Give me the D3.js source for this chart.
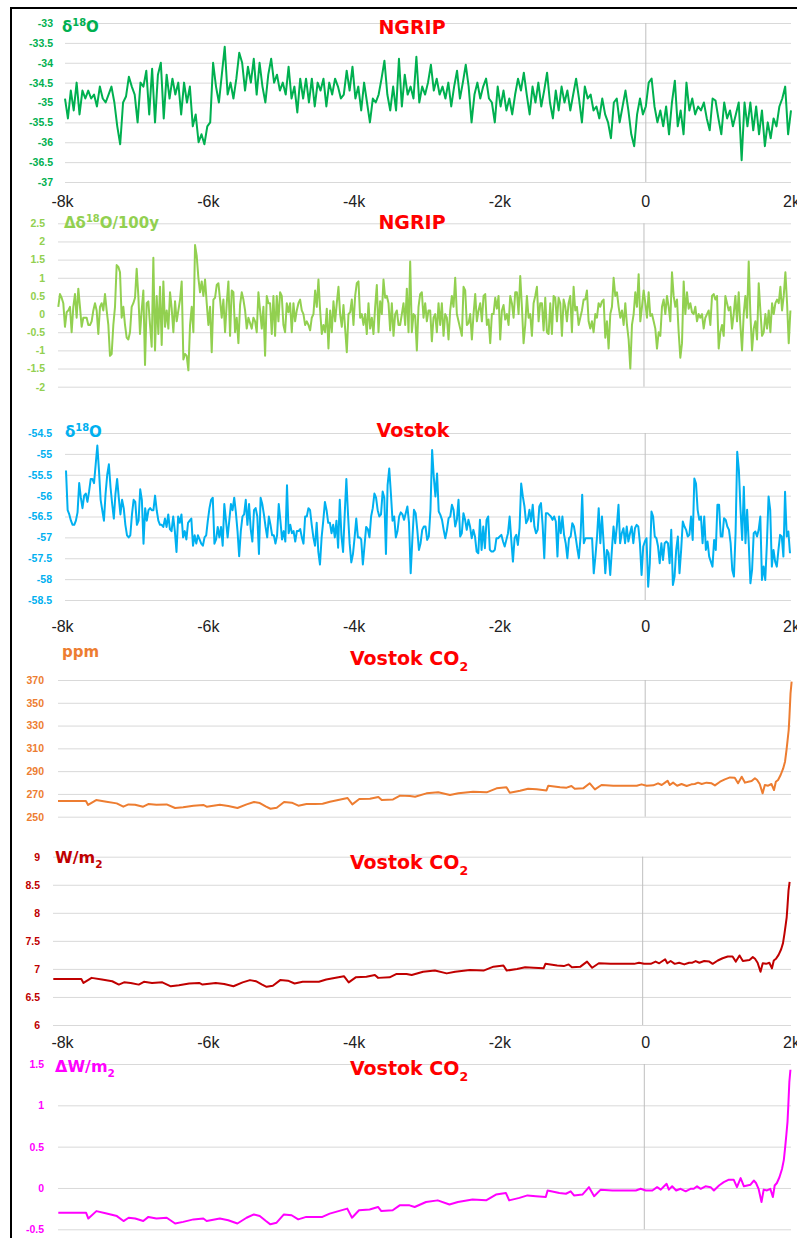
<!DOCTYPE html>
<html>
<head lang="en">
    <meta charset="UTF-8">
    <title></title>
    <script src="https://cdn.jsdelivr.net/npm/d3@7/dist/d3.min.js"></script>
    <style>
        body{margin:0;background:#fff;}
        svg{display:block;font-family:"DejaVu Sans",Verdana,sans-serif;}
        .grid line{stroke:#d9d9d9;stroke-width:1px;}
        .grid text{font-size:10.5px;font-weight:bold;}
        .zero{stroke:#bfbfbf;stroke-width:1px;}
        .series{fill:none;stroke-width:2px;stroke-linejoin:round;}
        .title{fill:#ff0000;font-weight:bold;}
        .unit{font-weight:bold;}
        .xlab text{font-size:16px;fill:#222;}
    </style>
</head>
<body>
<div id="chart"></div>
<script>
    // x axis labels, shared by the three labelled panels
    var xTickYears = [-8000, -6000, -4000, -2000, 0, 2000];
    var xTickLabels = ['-8k', '-6k', '-4k', '-2k', '0', '2k'];

    // y tick values per panel
    var ngripTicks = [-33, -33.5, -34, -34.5, -35, -35.5, -36, -36.5, -37];
    var ngripDeltaTicks = [2.5, 2, 1.5, 1, 0.5, 0, -0.5, -1, -1.5, -2];
    var vostokTicks = [-54.5, -55, -55.5, -56, -56.5, -57, -57.5, -58, -58.5];
    var ppmTicks = [370, 350, 330, 310, 290, 270, 250];
    var wm2Ticks = [9, 8.5, 8, 7.5, 7, 6.5, 6];
    var dwm2Ticks = [1.5, 1, 0.5, 0, -0.5];

    // NGRIP d18O, evenly spaced from -8000 to 2000
    var ngripD18O = [
        -34.9,-35.4,-34.7,-35.2,-34.5,-35.3,-34.7,-34.9,-34.7,-34.9,
        -34.8,-35.1,-34.6,-34.9,-35.0,-34.8,-34.6,-35.0,-35.6,-36.05,
        -35.0,-34.85,-34.35,-34.6,-34.8,-35.5,-34.5,-34.6,-34.2,-35.3,
        -34.15,-35.5,-34.3,-34.0,-35.4,-34.3,-34.9,-34.4,-34.8,-34.5,
        -35.3,-34.5,-35.0,-34.6,-35.6,-35.3,-36.0,-35.8,-36.05,-35.6,
        -35.5,-34.0,-34.6,-35.0,-34.3,-33.6,-34.8,-34.5,-34.9,-34.4,
        -33.75,-34.0,-34.7,-34.1,-34.5,-33.9,-34.8,-34.0,-34.6,-35.0,
        -34.3,-33.9,-34.5,-34.3,-34.7,-34.5,-34.8,-34.1,-34.9,-34.6,
        -35.25,-34.4,-34.9,-34.4,-35.0,-34.4,-35.1,-34.5,-34.7,-34.4,
        -35.1,-34.5,-34.8,-34.4,-34.6,-34.9,-34.8,-34.2,-34.7,-34.1,
        -34.9,-34.6,-35.2,-34.5,-35.0,-35.5,-34.9,-35.0,-34.8,-34.4,
        -33.95,-34.8,-35.2,-34.6,-35.2,-33.9,-35.1,-34.3,-34.8,-34.6,
        -34.9,-33.85,-35.0,-34.6,-34.8,-34.5,-34.05,-34.7,-34.4,-34.8,
        -34.6,-34.9,-34.5,-35.1,-34.6,-34.2,-34.9,-34.5,-34.05,-34.6,
        -35.5,-34.8,-34.5,-34.9,-34.6,-34.4,-34.9,-35.0,-35.5,-34.6,
        -35.1,-34.7,-35.2,-34.9,-35.3,-34.8,-34.4,-34.7,-34.25,-34.8,
        -35.3,-34.6,-35.0,-34.5,-35.1,-34.7,-34.25,-35.0,-35.4,-34.7,
        -35.2,-34.6,-35.0,-34.7,-35.2,-34.8,-34.4,-34.9,-35.5,-34.6,
        -34.9,-34.8,-35.2,-35.1,-35.4,-34.9,-35.3,-35.5,-35.9,-35.0,
        -34.9,-35.5,-35.1,-34.7,-35.2,-35.8,-36.1,-35.3,-34.9,-35.3,
        -35.1,-34.5,-34.4,-35.1,-35.5,-35.2,-35.6,-35.1,-35.8,-35.0,
        -34.45,-35.6,-35.2,-35.8,-34.5,-35.2,-34.9,-35.3,-35.1,-35.2,
        -35.0,-35.4,-35.7,-34.9,-34.95,-35.4,-35.8,-35.0,-35.4,-35.2,
        -35.6,-35.3,-35.0,-36.45,-35.0,-35.6,-35.0,-35.7,-35.1,-35.8,
        -35.2,-36.1,-35.5,-35.9,-35.4,-35.6,-35.1,-34.9,-34.6,-35.8,-35.2
    ];

    // NGRIP change of d18O per 100 years, evenly spaced from -8000 to 2000
    var ngripDelta = [
        0.2,0.55,0.45,0.3,-0.35,0.05,0.1,0.2,-0.5,0.2,
        0.55,-0.1,0.7,0.2,-0.35,-0.1,-0.1,-0.1,-0.3,-0.3,
        -0.2,0.1,0.3,0.1,-0.55,0.2,0.3,0.1,0.55,0.1,
        -0.3,-1.15,-1.1,-0.3,0.2,1.35,1.3,1.15,-0.1,0.2,
        -0.3,-0.65,-0.7,-0.5,0.2,0.3,0.45,1.25,0.5,-0.55,
        0.1,0.65,-1.4,0.3,0.35,-0.3,-0.9,1.55,-1.0,0.5,
        -0.55,0.75,-0.85,0.9,-0.35,0.1,-0.4,0.6,0.15,-0.5,
        0.35,-0.2,0.1,0.4,0.9,-1.25,-1.1,-1.15,-1.55,-0.3,
        0.2,-0.5,1.9,1.6,1.0,0.6,0.9,0.5,0.95,0.3,
        -0.3,0.2,-1.05,0.4,0.45,0.8,0.85,0.4,-0.1,0.4,
        -0.5,0.3,0.9,-0.6,0.65,0.6,-0.5,-0.1,-0.8,0.25,
        0.6,0.4,0.1,-0.4,-0.1,-0.25,-0.4,-0.1,-0.2,-0.5,
        0.6,0.1,-0.4,0.2,-1.15,0.5,0.3,0.3,-0.55,0.5,
        -0.6,0.5,-0.2,0.6,0.5,-0.3,-0.5,0.3,0.05,0.3,
        -0.5,0.3,-0.2,0.1,0.3,0.4,0.1,0.0,-0.3,-0.2,
        -0.3,-0.45,-0.1,0.0,0.65,0.2,0.95,0.1,-0.55,-0.3,
        -0.5,0.15,-0.95,0.1,-0.5,0.35,-0.2,0.3,0.75,0.0,
        -0.35,0.25,-0.4,-1.05,0.0,0.05,0.4,-0.3,0.5,0.85,
        0.9,-0.1,0.0,-0.3,0.0,-0.55,0.3,-0.4,-0.1,-0.55,
        0.2,0.8,-0.5,0.35,0.0,0.95,0.45,0.5,0.3,-0.45,
        0.3,-0.6,0.0,0.1,-0.3,
        -0.3,0.0,0.3,-0.3,0.7,-0.5,1.45,-0.5,0.0,-0.05,
        -1.0,0.2,0.55,0.6,-0.1,0.3,-0.2,0.1,0.1,-0.75,
        -0.1,0.0,-0.5,0.3,-0.3,0.3,-0.6,0.0,-0.1,-0.7,
        0.1,0.5,0.2,1.0,0.0,-0.2,-0.4,-0.6,0.75,0.65,
        -0.3,-0.25,0.0,-0.7,0.0,0.55,-0.2,0.1,0.3,-0.2,
        0.5,0.55,-0.3,-0.15,-0.8,0.0,0.0,0.45,0.15,0.5,
        -0.7,0.1,0.25,-0.15,0.0,-0.3,0.5,0.3,-0.1,0.6,
        0.6,0.0,1.05,0.2,-0.8,-0.3,0.5,-0.1,0.0,-0.6,
        0.3,0.5,0.75,-0.2,0.3,0.3,-0.45,0.45,-0.5,-0.55,
        0.3,-0.55,0.5,0.45,-0.2,0.45,0.3,-0.6,0.4,0.2,
        -0.2,0.3,0.5,-0.5,0.75,0.1,0.2,-0.3,-0.1,0.1,
        0.4,0.4,0.65,-0.2,-0.4,-0.2,-0.5,0.0,-0.1,0.3,
        0.2,0.35,0.4,-0.65,-0.2,-0.95,0.0,0.2,1.0,0.5,
        0.6,0.2,-0.1,0.1,-0.3,0.3,-0.3,-0.7,-1.5,-0.3,
        0.0,0.6,0.2,1.1,-0.2,0.2,0.65,0.3,-0.1,0.6,
        -0.05,0.0,-0.2,-0.4,-0.95,-0.5,-0.6,0.2,0.4,0.0,
        0.5,0.2,-0.2,1.15,0.5,0.2,0.4,-0.5,-1.2,-0.8,
        0.9,0.0,0.6,0.15,0.3,0.05,0.0,0.2,-0.2,0.0,
        -0.1,0.0,-0.4,-0.1,0.0,0.1,-0.3,0.5,0.55,0.4,
        0.5,-0.95,-0.5,-0.3,-0.6,0.5,0.3,0.1,0.2,-0.4,
        0.0,0.5,-0.2,0.6,-0.3,-1.0,0.0,0.5,-0.1,1.45,
        0.0,-1.0,-0.4,-0.2,-0.7,0.85,0.1,-0.6,-0.5,0.0,
        -0.4,0.1,-0.5,0.3,0.0,0.3,0.4,0.3,0.75,0.1,
        0.5,1.15,0.3,-0.8,0.1
    ];

    // Vostok d18O, evenly spaced from -8000 to 2000
    var vostokD18O = [
        -55.4,-56.35,-56.45,-56.6,-56.7,-56.7,-56.6,-56.4,-55.7,-56.05,
        -56.3,-56.0,-55.95,-56.15,-55.9,-55.6,-55.6,-55.7,-55.25,-54.8,
        -55.4,-56.1,-56.35,-56.6,-55.95,-55.5,-55.25,-55.8,-56.2,-56.55,
        -55.95,-55.6,-56.05,-56.45,-56.1,-56.3,-56.7,-56.95,-57.0,-56.95,
        -56.45,-56.1,-56.15,-56.7,-56.6,-55.85,-56.1,-57.15,-56.3,-56.6,
        -56.35,-56.3,-56.35,-56.35,-56.0,-56.35,-56.6,-56.7,-56.7,-56.75,
        -56.55,-56.75,-56.45,-56.8,-56.85,-56.5,-56.85,-57.35,-56.5,-56.65,
        -56.45,-57.0,-56.85,-57.05,-56.65,-56.6,-56.55,-57.2,-56.95,-57.15,
        -56.95,-57.05,-57.15,-57.2,-57.0,-56.95,-56.6,-56.3,-56.1,-56.05,
        -57.15,-57.05,-56.75,-57.0,-56.75,-57.2,-56.2,-56.6,-57.0,-56.6,
        -56.2,-56.35,-56.05,-56.4,-56.85,-57.45,-56.85,-56.5,-56.45,-56.1,
        -56.7,-56.2,-56.8,-57.1,-56.35,-56.3,-56.5,-57.4,-56.05,-56.2,
        -56.45,-56.75,-57.0,-56.5,-56.7,-56.95,-56.95,-57.15,-56.95,-56.2,
        -56.6,-57.05,-56.85,-57.1,-55.75,-56.9,-56.7,-56.9,-56.85,-57.1,
        -56.85,-56.85,-56.8,-57.0,-57.15,-56.5,-56.5,-56.3,-56.35,-56.7,
        -57.0,-57.2,-56.65,-57.35,-57.65,-57.0,-56.6,-56.15,-56.35,-56.65,
        -56.65,-56.9,-56.7,-57.0,-56.6,-57.25,-56.1,-56.95,-57.35,-56.45,
        -55.6,-56.45,-57.15,-57.6,-57.4,-57.0,-56.55,-57.0,-57.0,-57.05,
        -57.65,-57.2,-56.75,-56.8,-57.0,-56.5,-56.3,-55.95,-56.05,-56.35,
        -56.5,-56.45,-55.9,-56.05,-57.4,-55.75,-55.35,-55.95,-56.6,-56.5,
        -57.0,-56.85,-56.5,-56.4,-56.45,
        -56.58,-56.42,-56.26,-56.66,-57.86,-57.06,-56.34,-56.42,-56.82,-57.3,
        -57.14,-56.82,-56.74,-56.74,-57.06,-56.98,-56.34,-54.91,-55.55,-56.02,
        -55.47,-56.38,-56.46,-56.58,-56.82,-57.02,-56.82,-56.54,-56.5,-56.22,
        -56.34,-56.74,-56.58,-56.1,-56.98,-56.9,-56.42,-56.58,-56.82,-56.58,
        -56.74,-57.02,-56.82,-56.98,-57.34,-57.38,-56.58,-57.3,-56.74,-57.26,
        -56.58,-56.5,-57.3,-57.34,-57.34,-57.3,-57.02,-57.02,-56.98,-56.94,
        -57.1,-57.22,-57.06,-56.9,-56.5,-57.06,-57.58,-57.02,-56.94,-57.18,
        -56.78,-55.71,-56.02,-56.26,-56.66,-56.58,-56.34,-56.62,-56.22,-56.74,
        -56.9,-56.82,-56.26,-56.18,-56.7,-57.5,-56.42,-56.42,-56.46,-56.5,
        -56.58,-56.5,-56.62,-57.46,-56.5,-56.9,-56.5,-56.94,-57.14,-57.5,
        -57.02,-56.98,-56.66,-56.74,-56.98,-57.26,-57.5,-56.98,-55.98,-57.14,
        -57.02,-57.02,-57.02,-57.02,-57.02,-57.86,-57.46,-56.98,-56.3,-57.14,
        -56.5,-57.14,-57.86,-57.3,-57.38,-57.9,-57.3,-56.74,-57.14,-56.74,
        -56.22,-57.14,-56.9,-56.78,-57.14,-56.74,-57.1,-56.9,-56.74,-57.14,
        -56.78,-56.7,-56.74,-57.14,-57.9,-57.22,-57.1,-57.02,-58.18,-57.62,
        -56.38,-56.5,-56.98,-57.02,-57.22,-57.62,-57.14,-57.54,-57.14,-57.1,
        -57.14,-57.62,-56.82,-58.14,-57.94,-57.3,-56.98,-57.86,-57.3,-56.62,
        -56.74,-56.82,-56.98,-56.94,-56.5,-57.06,-55.59,-55.71,-56.34,-56.58,
        -56.5,-57.14,-56.5,-57.3,-57.1,-57.46,-57.58,-57.7,-57.06,-57.3,
        -56.22,-56.22,-56.98,-56.98,-56.54,-56.58,-56.74,-56.82,-57.14,-57.78,
        -57.94,-56.9,-54.95,-55.39,-56.34,-57.06,-55.79,-57.14,-56.34,-57.14,
        -58.1,-57.78,-56.9,-56.86,-56.98,-56.82,-56.5,-58.02,-57.7,-58.02,
        -57.14,-56.02,-56.34,-57.7,-57.3,-57.58,-57.7,-57.3,-56.94,-56.98,
        -57.46,-55.91,-56.98,-56.86,-57.38
    ];

    // Vostok CO2 record (years, ppm) and its forcing
    var co2Years = [
        -8000,-7620,-7590,-7480,-7340,-7200,-7110,-7040,-6950,-6840,
        -6770,-6660,-6520,-6405,-6295,-6155,-6020,-5975,-5795,-5680,
        -5555,-5430,-5330,-5250,-5165,-5105,-5020,-4920,-4815,-4725,
        -4615,-4500,-4395,-4295,-4055,-3990,-3895,-3750,-3635,-3590,
        -3435,-3340,-3205,-3135,-2980,-2820,-2660,-2545,-2345,-2160,
        -2025,-1890,-1845,-1705,-1595,-1480,-1345,-1320,-1160,-1070,
        -1005,-960,-845,-755,-685,-595,-435,-255,-115,-50,
        20,110,175,225,270,305,335,380,435,495,
        565,630,675,720,770,835,905,950,1020,1085,
        1155,1220,1265,1315,1360,1405,1450,1495,1525,1560,
        1600,1630,1675,1720,1755,1780,1810,1845,1880,1905,
        1925,1940,1955,1965,1980,1995
    ];
    var co2Ppm = [
        263.8,263.8,260.3,264.6,263.2,261.7,258.8,260.8,260.5,258.8,
        261.1,260.5,260.8,257.6,258.2,259.7,260.3,258.8,260.5,259.4,
        257.6,260.8,262.9,262.0,258.8,257.0,257.9,262.9,262.3,259.7,
        261.1,261.1,261.4,263.2,266.4,260.8,265.5,265.8,267.3,264.6,
        265.2,268.5,268.1,267.5,270.5,271.4,269.0,270.5,272.0,271.4,
        274.9,275.8,271.1,272.8,274.6,274.0,273.1,277.2,275.8,275.5,
        277.0,274.6,274.9,279.3,274.0,277.8,277.2,277.2,277.2,278.4,
        277.2,277.5,279.3,277.8,279.9,281.6,277.8,279.9,277.2,278.7,
        277.0,278.4,278.7,279.9,278.7,279.9,279.3,277.5,280.7,282.8,
        284.5,284.2,279.3,285.1,279.9,280.7,281.3,283.7,282.2,278.7,
        270.5,277.8,277.2,278.7,273.4,280.7,282.2,286.6,292.4,298.3,
        308.5,317.3,326.1,337.8,358.3,368.5
    ];
    var co2Wm2 = [
        6.82,6.82,6.75,6.84,6.81,6.78,6.72,6.76,6.75,6.72,
        6.77,6.75,6.76,6.69,6.71,6.74,6.75,6.72,6.75,6.73,
        6.69,6.76,6.80,6.78,6.72,6.68,6.70,6.80,6.79,6.74,
        6.77,6.77,6.77,6.81,6.87,6.76,6.85,6.86,6.89,6.84,
        6.85,6.91,6.91,6.89,6.95,6.97,6.92,6.95,6.98,6.97,
        7.04,7.06,6.97,7.00,7.03,7.02,7.01,7.09,7.06,7.05,
        7.08,7.03,7.04,7.13,7.02,7.10,7.09,7.09,7.09,7.11,
        7.09,7.09,7.13,7.10,7.14,7.17,7.10,7.14,7.09,7.11,
        7.08,7.11,7.11,7.14,7.11,7.14,7.13,7.09,7.15,7.19,
        7.22,7.22,7.13,7.24,7.14,7.15,7.16,7.21,7.18,7.11,
        6.95,7.10,7.09,7.11,7.01,7.15,7.18,7.25,7.35,7.46,
        7.63,7.77,7.92,8.10,8.40,8.55
    ];
    var co2DeltaWm2 = [
        -0.30,-0.30,-0.37,-0.28,-0.31,-0.34,-0.40,-0.36,-0.37,-0.40,
        -0.35,-0.37,-0.36,-0.43,-0.41,-0.38,-0.37,-0.40,-0.37,-0.39,
        -0.43,-0.36,-0.32,-0.34,-0.40,-0.44,-0.42,-0.32,-0.33,-0.38,
        -0.35,-0.35,-0.35,-0.31,-0.25,-0.36,-0.27,-0.26,-0.23,-0.28,
        -0.27,-0.21,-0.21,-0.23,-0.17,-0.15,-0.20,-0.17,-0.14,-0.15,
        -0.08,-0.06,-0.15,-0.12,-0.09,-0.10,-0.11,-0.03,-0.06,-0.07,
        -0.04,-0.09,-0.08,0.01,-0.10,-0.02,-0.03,-0.03,-0.03,-0.01,
        -0.03,-0.03,0.01,-0.02,0.02,0.05,-0.02,0.02,-0.03,-0.01,
        -0.04,-0.01,-0.01,0.02,-0.01,0.02,0.01,-0.03,0.03,0.07,
        0.10,0.10,0.01,0.12,0.02,0.03,0.04,0.09,0.06,-0.01,
        -0.17,-0.02,-0.03,-0.01,-0.11,0.03,0.06,0.13,0.23,0.34,
        0.51,0.65,0.80,0.98,1.28,1.43
    ];

    function evenYears(vals){
        var idx = d3.scaleLinear().domain([0, vals.length - 1]).range([-8000, 2000]);
        return vals.map(function(d, i){ return idx(i); });
    }

    var panels = [
        {years: evenYears(ngripD18O), values: ngripD18O, ticks: ngripTicks, color: '#00b050',
         left: 65, right: 791, top: 23, bottom: 182, gridLeft: 65, pad: 12,
         unit: [['δ',''],['18','sup'],['O','']], unitX: 62, unitY: 32, unitSize: 15,
         title: [['NGRIP','']], titleX: 412, titleY: 34, xAxisY: 196},
        {years: evenYears(ngripDelta), values: ngripDelta, ticks: ngripDeltaTicks, color: '#92d050',
         left: 58.3, right: 790.4, top: 223.3, bottom: 386.7, gridLeft: 58, pad: 13,
         unit: [['Δδ',''],['18','sup'],['O/100y','']], unitX: 64, unitY: 228, unitSize: 15,
         title: [['NGRIP','']], titleX: 412, titleY: 229},
        {years: evenYears(vostokD18O), values: vostokD18O, ticks: vostokTicks, color: '#00b0f0',
         left: 66, right: 790, top: 433, bottom: 600, gridLeft: 65, pad: 13,
         unit: [['δ',''],['18','sup'],['O','']], unitX: 65, unitY: 437, unitSize: 15,
         title: [['Vostok','']], titleX: 413, titleY: 437, xAxisY: 621},
        {years: co2Years, values: co2Ppm, ticks: ppmTicks, color: '#ed7d31',
         left: 58, right: 792, top: 680, bottom: 816.7, gridLeft: 58, pad: 14,
         unit: [['ppm','']], unitX: 62, unitY: 657, unitSize: 15,
         title: [['Vostok CO',''],['2','sub']], titleX: 409, titleY: 665},
        {years: co2Years, values: co2Wm2, ticks: wm2Ticks, color: '#c00000',
         left: 53.3, right: 790, top: 856.7, bottom: 1025, gridLeft: 53, pad: 13,
         unit: [['W/m',''],['2','sub']], unitX: 55, unitY: 863, unitSize: 16,
         title: [['Vostok CO',''],['2','sub']], titleX: 409, titleY: 869, xAxisY: 1037},
        {years: co2Years, values: co2DeltaWm2, ticks: dwm2Ticks, color: '#ff00ff',
         left: 58.3, right: 790.8, top: 1064, bottom: 1229.3, gridLeft: 58, pad: 14,
         unit: [['ΔW/m',''],['2','sub']], unitX: 55, unitY: 1072, unitSize: 16,
         title: [['Vostok CO',''],['2','sub']], titleX: 409, titleY: 1075}
    ];

    var W = 797, H = 1238, gridRight = 791;
    var svg = d3.select('#chart').append('svg').attr('width', W).attr('height', H);

    // label positions of the k-year axis
    var xLab = d3.scaleLinear().domain([-8000, 2000]).range([62, 791]);

    function richText(g, parts, x, y, size){
        var t = g.append('text').attr('x', x).attr('y', y).attr('font-size', size);
        var shift = 0;
        parts.forEach(function(p){
            var target = p[1] === 'sup' ? -0.4 * size : (p[1] === 'sub' ? 0.3 * size : 0);
            var s = t.append('tspan').text(p[0]).attr('dy', target - shift);
            if(p[1]) s.attr('font-size', size * 0.66);
            shift = target;
        });
        return t;
    }

    function drawPanel(p){
        var g = svg.append('g');
        var x = d3.scaleLinear().domain([-8000, 2000]).range([p.left, p.right]);
        var y = d3.scaleLinear().domain(d3.extent(p.ticks)).range([p.bottom, p.top]);

        var ga = g.append('g')
                .attr('class', 'grid')
                .attr('transform', 'translate(' + p.gridLeft + ',0)')
                .call(d3.axisLeft(y)
                        .tickValues(p.ticks)
                        .tickSizeInner(-(gridRight - p.gridLeft))
                        .tickSizeOuter(0)
                        .tickPadding(p.pad)
                        .tickFormat(function(d){ return String(d); }));
        ga.select('.domain').remove();
        ga.selectAll('text').attr('fill', p.color);

        g.append('line')
                .attr('class', 'zero')
                .attr('x1', x(0)).attr('x2', x(0))
                .attr('y1', y(p.ticks[0])).attr('y2', y(p.ticks[p.ticks.length - 1]));

        var line = d3.line()
                .x(function(d){ return x(d[0]); })
                .y(function(d){ return y(d[1]); });
        g.append('path')
                .datum(p.years.map(function(yr, i){ return [yr, p.values[i]]; }))
                .attr('class', 'series')
                .attr('stroke', p.color)
                .attr('d', line);

        richText(g, p.unit, p.unitX, p.unitY, p.unitSize)
                .attr('class', 'unit').attr('fill', p.color);
        richText(g, p.title, p.titleX, p.titleY, 19)
                .attr('class', 'title').attr('text-anchor', 'middle');

        if(p.xAxisY !== undefined){
            var gx = g.append('g')
                    .attr('class', 'xlab')
                    .attr('transform', 'translate(0,' + p.xAxisY + ')')
                    .call(d3.axisBottom(xLab)
                            .tickValues(xTickYears)
                            .tickSize(0)
                            .tickPadding(0)
                            .tickFormat(function(d, i){ return xTickLabels[i]; }));
            gx.select('.domain').remove();
        }
    }

    panels.forEach(drawPanel);

    // outer frame, its right and bottom edges fall outside the picture
    svg.append('rect')
            .attr('x', 11).attr('y', 8)
            .attr('width', 900).attr('height', 1400)
            .attr('fill', 'none')
            .attr('stroke', '#000')
            .attr('stroke-width', 2);
</script>
</body>
</html>
